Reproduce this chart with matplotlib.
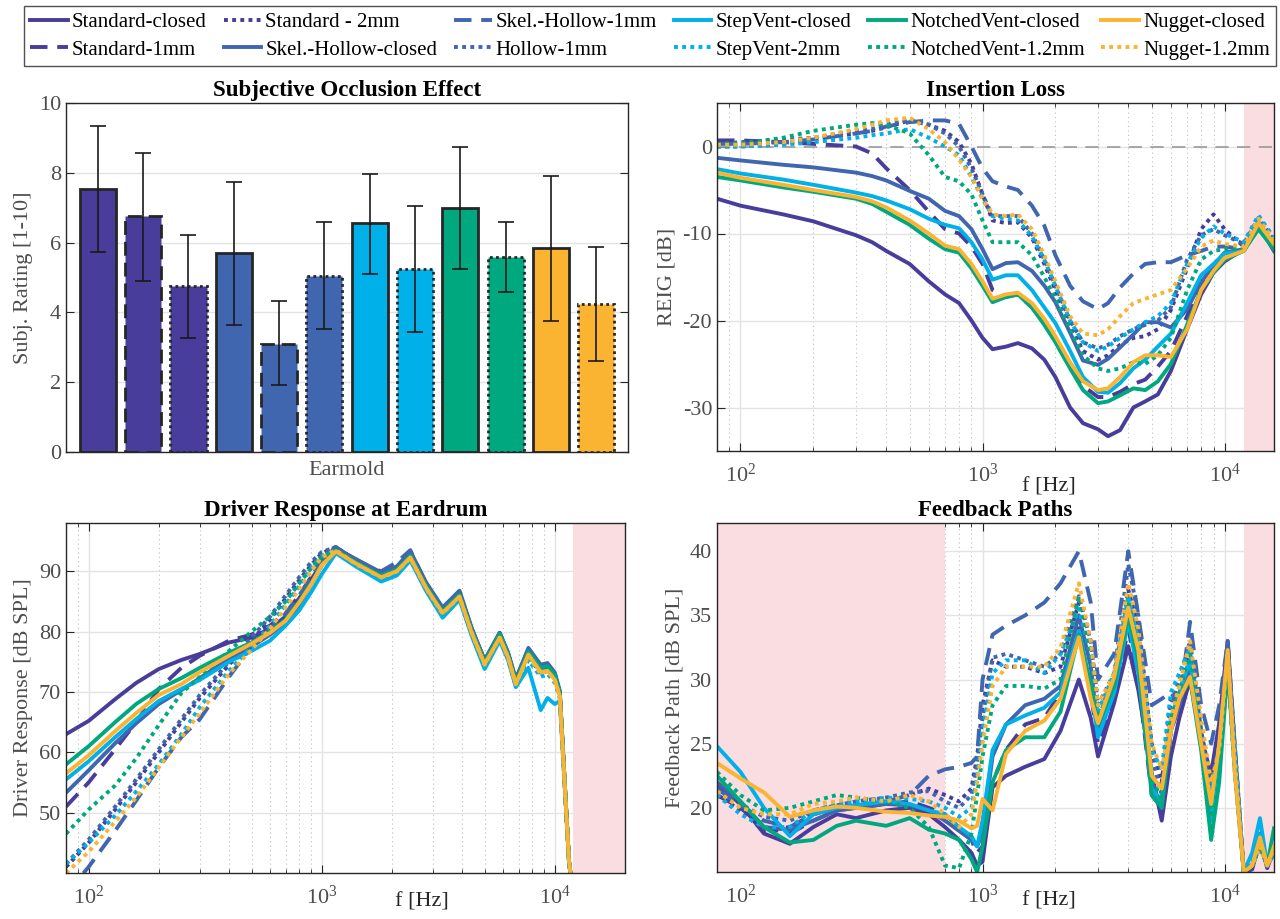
import numpy as np
import matplotlib
matplotlib.use("Agg")
import matplotlib.pyplot as plt

plt.rcParams['font.family'] = ['Liberation Serif', 'DejaVu Serif']
plt.rcParams['mathtext.fontset'] = 'custom'
plt.rcParams['mathtext.rm'] = 'Liberation Serif'
plt.rcParams['mathtext.it'] = 'Liberation Serif:italic'
plt.rcParams['axes.unicode_minus'] = False

# ---- legend / series definitions
labels = ['Standard-closed', 'Standard-1mm', 'Standard - 2mm',
          'Skel.-Hollow-closed', 'Skel.-Hollow-1mm', 'Hollow-1mm',
          'StepVent-closed', 'StepVent-2mm',
          'NotchedVent-closed', 'NotchedVent-1.2mm',
          'Nugget-closed', 'Nugget-1.2mm']
col_std = '#483D9A'
col_sh = '#4066B0'
col_sv = '#00B0E8'
col_nv = '#00A87F'
col_ng = '#FBB431'
colors = [col_std, col_std, col_std, col_sh, col_sh, col_sh,
          col_sv, col_sv, col_nv, col_nv, col_ng, col_ng]
kinds = ['solid', 'dash', 'dot', 'solid', 'dash', 'dot',
         'solid', 'dot', 'solid', 'dot', 'solid', 'dot']

# ---- subjective occlusion effect (bars)
occl_mean = [7.55, 6.75, 4.75, 5.70, 3.10, 5.03, 6.55, 5.24, 7.00, 5.59, 5.85, 4.24]
occl_top = [9.33, 8.57, 6.23, 7.75, 4.33, 6.58, 7.97, 7.04, 8.74, 6.58, 7.92, 5.86]
occl_bot = [5.74, 4.91, 3.27, 3.64, 1.91, 3.53, 5.10, 3.44, 5.24, 4.59, 3.76, 2.62]

# ---- insertion loss (REIG, dB)
il_freq = [80, 100, 150, 200, 300, 350, 400, 500, 600, 700, 800, 900, 1000, 1100,
           1250, 1400, 1600, 1800, 2000, 2300, 2600, 3000, 3300, 3700, 4200, 4700,
           5300, 6000, 7000, 8000, 9000, 10000, 12000, 13800, 16000]
il_std_closed = [-6.0, -6.8, -7.8, -8.6, -10.2, -11.0, -12.0, -13.5, -15.5, -17.0, -18.0, -20.0,
                 -22.0, -23.3, -23.0, -22.6, -23.2, -24.5, -26.5, -30.0, -31.8, -32.5, -33.3,
                 -32.6, -30.0, -29.3, -28.5, -25.8, -21.0, -17.0, -14.5, -13.2, -11.8, -9.0, -12.0]
il_std_1mm = [0.7, 0.7, 0.5, 0.3, 0.0, -0.8, -2.5, -5.0, -7.5, -9.5, -10.0, -11.5, -13.5, -16.5,
              -17.3, -17.0, -18.5, -20.3, -22.3, -25.5, -27.5, -28.8, -28.8, -28.2, -27.3, -26.8,
              -25.3, -23.5, -19.5, -15.8, -14.0, -12.8, -12.0, -9.0, -11.5]
il_std_2mm = [0.0, 0.0, 0.3, 0.8, 1.5, 1.8, 2.2, 3.0, 2.5, 1.8, 0.5, -2.0, -5.5, -8.5, -8.8, -8.7,
              -10.5, -13.5, -16.5, -20.5, -23.5, -24.5, -24.0, -22.8, -22.0, -21.8, -21.0, -18.8,
              -14.0, -9.5, -7.8, -9.5, -11.5, -8.5, -11.0]
il_sh_closed = [-1.3, -1.6, -2.1, -2.4, -3.0, -3.4, -3.9, -5.1, -6.0, -7.4, -8.0, -9.5, -11.8,
                -14.1, -13.4, -13.3, -14.3, -16.0, -17.9, -21.4, -24.6, -25.1, -24.4, -23.1,
                -21.6, -20.2, -20.2, -20.8, -18.7, -15.6, -13.7, -12.2, -11.8, -9.0, -12.0]
il_sh_1mm = [0.3, 0.3, 0.5, 0.8, 1.5, 1.8, 2.3, 2.8, 3.0, 3.0, 2.6, 0.0, -2.5, -4.0, -4.6, -5.0,
             -6.8, -9.1, -12.5, -16.0, -17.8, -18.7, -18.0, -16.2, -14.6, -13.5, -13.3, -13.3,
             -12.5, -12.0, -11.5, -11.5, -11.8, -8.8, -11.2]
il_hollow_1mm = [0.3, 0.5, 0.8, 1.0, 1.8, 2.0, 2.5, 3.0, 2.5, 1.5, 0.0, -2.5, -5.5, -8.0, -8.0,
                 -8.0, -10.0, -13.0, -16.0, -20.0, -22.5, -23.2, -22.8, -21.8, -21.0, -20.5,
                 -20.0, -18.5, -13.0, -10.2, -9.5, -10.2, -11.2, -8.2, -10.8]
il_sv_closed = [-2.6, -3.1, -3.8, -4.4, -5.3, -5.7, -6.2, -7.2, -8.3, -9.0, -9.4, -11.0, -13.0,
                -15.3, -14.8, -14.8, -16.5, -18.5, -20.3, -23.5, -26.5, -28.2, -28.3, -27.2,
                -25.5, -24.5, -23.0, -21.5, -18.0, -14.8, -13.5, -12.3, -12.0, -8.7, -11.3]
il_sv_2mm = [0.0, 0.0, 0.2, 0.5, 1.0, 1.3, 1.5, 2.0, 1.0, 0.0, -1.0, -3.5, -6.0, -8.0, -8.3, -8.5,
             -10.3, -13.0, -16.0, -20.0, -22.5, -23.5, -23.0, -22.0, -21.0, -20.2, -19.5, -18.0,
             -13.5, -10.5, -9.2, -10.0, -11.0, -7.9, -10.5]
il_nv_closed = [-3.5, -3.9, -4.7, -5.2, -6.0, -6.6, -7.5, -9.0, -10.6, -11.8, -12.2, -14.0, -16.0,
                -17.9, -17.3, -17.0, -18.5, -20.5, -22.5, -25.5, -28.0, -29.5, -29.3, -28.6,
                -27.8, -28.0, -27.0, -25.0, -20.5, -16.5, -14.5, -13.0, -12.0, -9.5, -11.8]
il_nv_12mm = [0.3, 0.3, 1.0, 1.8, 2.5, 2.7, 2.5, 1.5, -1.0, -3.5, -4.0, -5.5, -8.5, -11.0, -11.0,
              -11.0, -12.5, -15.0, -17.5, -21.0, -24.0, -25.5, -25.8, -25.5, -24.8, -25.0, -24.0,
              -22.0, -16.5, -13.0, -12.0, -11.8, -11.8, -9.3, -11.5]
il_ng_closed = [-3.0, -3.6, -4.4, -5.0, -5.8, -6.3, -7.0, -8.5, -10.0, -11.4, -11.8, -13.5, -15.5,
                -17.5, -17.0, -16.8, -18.0, -19.8, -21.8, -24.8, -27.0, -28.0, -27.8, -26.5,
                -24.8, -24.0, -24.0, -24.2, -21.0, -16.5, -14.3, -12.8, -12.0, -8.8, -11.2]
il_ng_12mm = [0.2, 0.2, 0.5, 1.0, 2.0, 2.5, 3.0, 3.3, 2.0, 0.5, -1.5, -3.5, -6.0, -7.8, -8.0, -7.8,
              -9.5, -12.5, -15.5, -19.5, -21.5, -21.7, -21.0, -19.5, -18.0, -17.5, -17.0, -16.5,
              -14.0, -11.5, -10.8, -11.2, -11.5, -8.3, -10.8]

# ---- driver response at eardrum (dB SPL)
dr_freq = [80, 100, 130, 160, 200, 250, 300, 400, 500, 600, 700, 800, 900, 1000, 1150,
           1400, 1800, 2100, 2400, 2800, 3300, 3900, 4400, 5000, 5800, 6300, 6800, 7700,
           8700, 9300, 10000, 10500, 11500, 12500]
dr_std_closed = [63.0, 65.2, 68.8, 71.5, 73.8, 75.3, 76.3, 78.2, 79.0, 80.5, 82.5, 85.5, 88.5, 91.5,
                 93.8, 92.0, 89.7, 90.6, 93.2, 88.0, 83.8, 86.5, 80.5, 75.3, 79.8, 76.5, 72.2,
                 77.0, 74.2, 74.5, 73.0, 70.0, 42.0, 30.0]
dr_std_1mm = [51.0, 55.0, 60.5, 65.0, 70.5, 74.0, 76.0, 78.5, 79.5, 81.0, 83.0, 86.0, 89.0, 92.0,
              94.0, 91.8, 89.5, 90.5, 93.0, 87.8, 83.5, 86.3, 80.3, 75.0, 79.5, 76.2, 71.8,
              76.8, 74.0, 74.0, 72.8, 69.8, 42.0, 30.0]
dr_std_2mm = [41.0, 45.0, 50.5, 55.0, 60.0, 65.0, 69.0, 74.5, 78.5, 82.0, 85.5, 88.5, 91.0, 93.0,
              94.0, 91.8, 89.5, 90.5, 93.0, 87.5, 83.3, 86.0, 80.0, 74.8, 79.2, 76.0, 71.5,
              76.0, 73.0, 73.5, 72.5, 69.5, 42.0, 30.0]
dr_sh_closed = [53.3, 57.0, 61.5, 64.8, 68.0, 70.3, 72.3, 75.5, 77.5, 79.5, 81.5, 84.5, 87.8, 91.0,
                93.8, 92.0, 89.8, 90.8, 93.3, 88.2, 84.0, 86.8, 80.6, 75.2, 79.8, 76.5, 72.0,
                77.3, 74.5, 74.8, 73.2, 70.2, 42.0, 30.0]
dr_sh_1mm = [36.5, 41.0, 47.0, 52.0, 57.5, 62.5, 65.5, 72.5, 77.5, 80.5, 83.0, 86.0, 89.0, 92.0,
             94.0, 91.5, 90.0, 91.5, 93.5, 88.0, 83.5, 86.3, 80.2, 75.0, 79.5, 76.2, 71.8,
             76.5, 73.5, 74.0, 72.8, 69.8, 42.0, 30.0]
dr_hollow_1mm = [41.5, 45.5, 51.0, 55.5, 60.5, 65.5, 69.5, 75.0, 79.0, 82.5, 86.0, 89.0, 91.5, 93.2,
                 94.0, 91.5, 89.5, 90.5, 92.8, 87.5, 83.3, 86.0, 80.0, 74.8, 79.3, 76.0, 71.5,
                 76.2, 73.2, 73.8, 72.5, 69.5, 42.0, 30.0]
dr_sv_closed = [55.5, 58.5, 62.5, 65.5, 68.5, 70.5, 72.0, 75.0, 76.8, 78.5, 81.0, 83.5, 86.5, 89.5,
                93.0, 90.8, 88.3, 89.3, 91.8, 86.8, 82.3, 85.3, 79.3, 73.8, 78.5, 75.3, 70.8,
                74.0, 67.0, 69.0, 68.0, 68.5, 42.0, 30.0]
dr_sv_2mm = [41.5, 45.0, 49.5, 53.5, 58.0, 63.0, 67.5, 73.5, 77.5, 81.0, 84.5, 87.5, 90.5, 92.5,
             93.5, 91.0, 88.7, 89.8, 92.0, 87.0, 82.8, 85.5, 79.5, 74.0, 78.8, 75.5, 71.0,
             75.3, 72.5, 73.0, 71.5, 69.0, 42.0, 30.0]
dr_nv_closed = [58.0, 61.0, 65.0, 68.0, 70.5, 72.3, 74.0, 76.5, 78.2, 80.0, 82.0, 85.0, 88.0, 91.0,
                93.5, 91.5, 89.3, 90.3, 92.6, 87.6, 83.4, 86.1, 80.2, 75.0, 79.6, 76.3, 71.8,
                76.7, 74.0, 74.3, 72.8, 70.0, 42.0, 30.0]
dr_nv_12mm = [46.5, 50.5, 54.5, 59.0, 64.5, 69.8, 72.5, 76.8, 80.0, 82.5, 85.0, 88.0, 90.5, 92.5,
              93.5, 91.3, 89.0, 90.0, 92.3, 87.3, 83.0, 85.8, 79.8, 74.5, 79.0, 75.8, 71.3,
              76.0, 73.3, 73.8, 72.3, 69.5, 42.0, 30.0]
dr_ng_closed = [56.5, 59.5, 63.5, 66.5, 69.5, 71.3, 73.3, 76.0, 78.0, 79.8, 81.8, 84.8, 87.8, 91.0,
                93.3, 91.3, 89.0, 90.0, 92.3, 87.3, 83.1, 85.8, 79.8, 74.6, 79.0, 75.8, 71.3,
                76.2, 73.3, 73.5, 72.0, 69.3, 42.0, 30.0]
dr_ng_12mm = [40.0, 43.5, 48.5, 52.5, 57.5, 62.5, 66.5, 73.0, 77.0, 80.5, 84.0, 87.0, 90.0, 92.3,
              93.5, 91.2, 89.0, 90.0, 92.2, 87.2, 83.0, 85.8, 79.8, 74.5, 79.0, 75.8, 71.3,
              76.0, 73.0, 73.5, 72.0, 69.3, 42.0, 30.0]

# ---- feedback paths (dB SPL)
fb_freq = [80, 100, 125, 160, 200, 250, 300, 400, 500, 600, 700, 800, 900, 950, 1000, 1100,
           1250, 1500, 1800, 2100, 2500, 2800, 3000, 3500, 4000, 4400, 5000, 5500, 6000,
           6500, 7200, 8000, 8800, 9500, 10300, 11000, 12000, 13000, 14000, 15000, 16000]
fb_std_closed = [21.8, 20.3, 18.0, 17.2, 18.5, 19.5, 19.2, 19.8, 20.0, 19.5, 18.5, 17.5, 16.5, 15.5,
                 15.8, 21.6, 22.5, 23.2, 23.8, 26.0, 30.0, 27.0, 24.0, 28.2, 32.6, 29.2, 22.7,
                 19.0, 24.0, 27.0, 30.0, 25.3, 22.7, 26.6, 33.0, 24.0, 15.0, 15.2, 17.5, 15.3, 16.8]
fb_std_1mm = [21.0, 20.0, 18.5, 18.0, 19.0, 19.8, 20.0, 20.3, 20.5, 20.0, 19.5, 18.5, 17.5, 16.5,
              17.0, 22.0, 24.5, 26.5, 27.0, 29.0, 34.0, 29.0, 25.0, 28.5, 34.0, 30.0, 21.0,
              20.0, 26.0, 28.0, 31.0, 25.0, 20.0, 24.0, 32.0, 24.0, 15.0, 15.5, 17.0, 15.5, 16.5]
fb_std_2mm = [21.0, 19.8, 18.2, 18.5, 19.5, 20.0, 20.3, 20.5, 21.0, 21.5, 21.0, 20.5, 21.5, 24.0,
              28.0, 31.5, 31.0, 31.0, 30.5, 31.0, 36.0, 33.0, 28.0, 30.0, 37.0, 34.0, 25.0,
              22.0, 28.5, 28.0, 32.0, 26.0, 22.0, 25.0, 32.5, 25.0, 15.0, 15.5, 17.5, 15.5, 16.5]
fb_sh_closed = [22.0, 20.5, 18.5, 18.3, 19.0, 19.8, 20.0, 20.3, 20.2, 19.8, 19.0, 18.2, 17.5, 17.0,
                18.0, 24.0, 26.5, 28.0, 28.5, 29.5, 35.0, 31.0, 26.0, 29.0, 35.5, 31.0, 22.0,
                20.0, 26.0, 28.0, 31.0, 25.0, 21.0, 24.0, 33.0, 25.0, 15.0, 15.5, 18.0, 15.5, 17.0]
fb_sh_1mm = [21.5, 20.2, 19.0, 18.5, 19.5, 20.0, 20.2, 20.5, 21.0, 22.5, 23.0, 23.2, 23.5, 24.0,
             30.0, 33.5, 34.2, 35.0, 36.0, 37.5, 40.0, 36.0, 30.0, 32.0, 40.0, 35.0, 28.0,
             28.5, 29.0, 28.0, 34.5, 28.0, 25.0, 28.0, 33.0, 25.0, 15.0, 16.0, 17.5, 15.5, 16.5]
fb_hollow_1mm = [21.5, 20.3, 19.3, 19.0, 19.8, 20.2, 20.5, 20.8, 21.2, 21.3, 20.5, 20.0, 21.0, 23.5,
                 27.0, 31.7, 32.0, 31.5, 31.0, 32.0, 36.5, 33.0, 28.0, 30.5, 39.0, 35.0, 24.0,
                 21.0, 28.0, 30.0, 33.0, 26.0, 21.0, 24.0, 31.0, 24.0, 15.0, 15.5, 17.0, 15.5, 16.5]
fb_sv_closed = [24.8, 22.8, 20.0, 17.8, 19.5, 20.0, 20.2, 20.5, 20.3, 19.8, 19.5, 18.5, 17.8, 17.0,
                19.0, 24.5, 26.5, 27.2, 27.8, 29.0, 33.8, 29.5, 25.5, 29.0, 34.5, 30.5, 21.5,
                20.5, 27.0, 29.0, 31.5, 25.0, 19.0, 23.0, 31.5, 24.0, 15.0, 16.5, 19.2, 15.5, 17.0]
fb_sv_2mm = [21.0, 19.5, 18.5, 18.5, 19.8, 20.3, 20.5, 20.8, 20.7, 20.5, 20.0, 19.3, 20.0, 22.5,
             26.0, 30.5, 31.5, 31.5, 30.5, 32.0, 35.5, 32.0, 27.5, 30.5, 36.5, 33.0, 24.5,
             23.0, 29.0, 30.5, 32.5, 26.0, 21.5, 25.0, 31.5, 24.5, 15.0, 16.0, 18.5, 15.5, 16.5]
fb_nv_closed = [22.5, 20.5, 18.5, 17.3, 17.5, 18.6, 19.0, 18.6, 19.2, 18.3, 18.0, 17.5, 16.0, 15.0,
                17.0, 22.0, 24.5, 25.5, 25.5, 27.5, 33.5, 29.5, 26.5, 29.5, 35.0, 31.5, 21.0,
                20.0, 26.5, 28.5, 30.0, 24.5, 17.5, 22.0, 31.0, 23.0, 15.0, 15.5, 17.0, 15.5, 18.4]
fb_nv_12mm = [22.8, 21.0, 19.8, 20.0, 20.5, 21.0, 20.8, 20.5, 20.0, 18.5, 15.5, 15.3, 18.0, 21.0,
              24.0, 28.0, 29.5, 29.5, 29.3, 30.0, 36.5, 32.0, 27.0, 30.0, 36.5, 33.0, 22.5,
              20.5, 27.0, 29.0, 32.0, 25.0, 19.5, 23.0, 31.0, 23.0, 15.0, 15.5, 17.5, 15.5, 17.0]
fb_ng_closed = [23.5, 22.3, 21.2, 19.3, 19.8, 20.1, 20.0, 19.7, 19.6, 19.4, 19.3, 19.0, 18.4, 18.6,
                20.7, 19.8, 24.2, 26.0, 26.8, 28.5, 33.3, 28.5, 26.6, 30.2, 35.6, 32.3, 22.5,
                21.5, 26.0, 28.5, 30.2, 25.0, 20.3, 25.0, 32.3, 23.0, 15.0, 15.5, 17.7, 15.5, 17.0]
fb_ng_12mm = [21.3, 20.0, 19.5, 19.5, 20.3, 20.5, 20.8, 20.5, 21.0, 20.5, 19.5, 18.5, 19.5, 22.0,
              25.0, 29.5, 31.0, 31.0, 31.0, 32.5, 37.5, 33.0, 28.0, 30.5, 37.5, 34.0, 25.0,
              23.0, 27.0, 29.5, 33.0, 27.0, 22.0, 24.5, 32.0, 24.0, 15.0, 15.5, 17.0, 15.5, 16.5]

il_curves = [il_std_closed, il_std_1mm, il_std_2mm, il_sh_closed, il_sh_1mm, il_hollow_1mm,
             il_sv_closed, il_sv_2mm, il_nv_closed, il_nv_12mm, il_ng_closed, il_ng_12mm]
dr_curves = [dr_std_closed, dr_std_1mm, dr_std_2mm, dr_sh_closed, dr_sh_1mm, dr_hollow_1mm,
             dr_sv_closed, dr_sv_2mm, dr_nv_closed, dr_nv_12mm, dr_ng_closed, dr_ng_12mm]
fb_curves = [fb_std_closed, fb_std_1mm, fb_std_2mm, fb_sh_closed, fb_sh_1mm, fb_hollow_1mm,
             fb_sv_closed, fb_sv_2mm, fb_nv_closed, fb_nv_12mm, fb_ng_closed, fb_ng_12mm]

line_styles = {'solid': '-', 'dash': (0, (4.5, 2.5)), 'dot': (0, (1, 1.1))}
edge_styles = {'solid': '-', 'dash': (0, (5, 2.5)), 'dot': (0, (1, 1.2))}
pink = '#FADDE1'
spine_col = '#262626'
tick_col = '#4D4D4D'
W, H = 1280, 919


def px_axes(fig, left, top, right, bottom):
    return fig.add_axes([left / W, 1 - bottom / H, (right - left) / W, (bottom - top) / H])


def style_axes(ax, logx=True):
    for s in ax.spines.values():
        s.set_color(spine_col)
        s.set_linewidth(1.0)
    ax.tick_params(which='both', direction='in', top=True, right=True, color=spine_col,
                   labelcolor=tick_col, labelsize=16)
    ax.tick_params(which='major', length=6)
    ax.tick_params(which='minor', length=3)
    ax.tick_params(axis='x', pad=9)
    ax.set_axisbelow(True)
    ax.grid(True, which='major', color='#E3E3E3', lw=1.0, ls='-')
    if logx:
        ax.set_xscale('log')
        ax.grid(True, which='minor', axis='x', color='#BDBDBD', lw=0.8, ls=(0, (1, 3)))


fig = plt.figure(figsize=(W / 100, H / 100), dpi=100)
title_kw = dict(fontsize=16.5, fontweight='bold', pad=5)

# ---- bars
ax0 = px_axes(fig, 66, 103, 628, 452)
style_axes(ax0, logx=False)
xb = np.arange(1, len(occl_mean) + 1)
mean = np.array(occl_mean)
bars = ax0.bar(xb, mean, width=0.8, color=colors, edgecolor=spine_col, linewidth=2.0, zorder=2)
for b, k in zip(bars, kinds):
    b.set_linestyle(edge_styles[k])
ax0.errorbar(xb, mean, yerr=[mean - np.array(occl_bot), np.array(occl_top) - mean],
             fmt='none', ecolor='#1A1A1A', elinewidth=1.2, capsize=6, capthick=1.2, zorder=3)
ax0.set_xlim(0.3, 12.7)
ax0.set_ylim(0, 10)
ax0.set_xticks([])
ax0.set_yticks([0, 2, 4, 6, 8, 10])
ax0.grid(False, axis='x')
ax0.set_ylabel('Subj. Rating [1-10]', fontsize=16, color=tick_col)
ax0.set_xlabel('Earmold', fontsize=16, color=tick_col)
ax0.xaxis.set_label_coords(0.5, -0.025)
ax0.set_title('Subjective Occlusion Effect', **title_kw)

# ---- insertion loss
ax1 = px_axes(fig, 717, 103, 1274, 451)
style_axes(ax1)
ax1.axvspan(12000, 16000, color=pink, lw=0, zorder=1)
ax1.axhline(0, color='#9A9A9A', lw=1.2, ls=(0, (8, 5)), zorder=1.5)
handles = []
for vals, c, k, lab in zip(il_curves, colors, kinds, labels):
    h, = ax1.plot(il_freq, vals, color=c, ls=line_styles[k], lw=2.8, label=lab)
    handles.append(h)
ax1.set_xlim(80, 16000)
ax1.set_ylim(-35, 5)
ax1.set_yticks([0, -10, -20, -30])
ax1.set_ylabel('REIG [dB]', fontsize=16, color=tick_col)
ax1.set_xlabel('f [Hz]', fontsize=16, color=spine_col)
ax1.xaxis.set_label_coords(0.596, -0.075)
ax1.set_title('Insertion Loss', **title_kw)

# ---- driver response
ax2 = px_axes(fig, 66, 523, 625, 873)
style_axes(ax2)
ax2.axvspan(12000, 20000, color=pink, lw=0, zorder=1)
for vals, c, k in zip(dr_curves, colors, kinds):
    ax2.plot(dr_freq, vals, color=c, ls=line_styles[k], lw=2.8)
ax2.set_xlim(80, 20000)
ax2.set_ylim(40, 98)
ax2.set_yticks([50, 60, 70, 80, 90])
ax2.set_ylabel('Driver Response [dB SPL]', fontsize=16, color=tick_col)
ax2.set_xlabel('f [Hz]', fontsize=16, color=spine_col)
ax2.xaxis.set_label_coords(0.636, -0.057)
ax2.set_title('Driver Response at Eardrum', **title_kw)

# ---- feedback paths
ax3 = px_axes(fig, 717, 523, 1274, 872)
style_axes(ax3)
ax3.axvspan(80, 700, color=pink, lw=0, zorder=1)
ax3.axvspan(12000, 16000, color=pink, lw=0, zorder=1)
for vals, c, k in zip(fb_curves, colors, kinds):
    ax3.plot(fb_freq, vals, color=c, ls=line_styles[k], lw=2.8)
ax3.set_xlim(80, 16000)
ax3.set_ylim(15, 42.2)
ax3.set_yticks([20, 25, 30, 35, 40])
ax3.set_ylabel('Feedback Path [dB SPL]', fontsize=16, color=tick_col)
ax3.set_xlabel('f [Hz]', fontsize=16, color=spine_col)
ax3.xaxis.set_label_coords(0.596, -0.057)
ax3.set_title('Feedback Paths', **title_kw)

leg = fig.legend(handles, labels, ncol=6, loc='lower left',
                 bbox_to_anchor=(24 / W, 1 - 66 / H, 1252 / W, 59 / H), mode='expand',
                 frameon=True, fancybox=False, edgecolor=spine_col, fontsize=15,
                 handlelength=1.8, handletextpad=0.2, borderaxespad=0, columnspacing=0.3,
                 labelspacing=0.4, borderpad=0.3)
leg.get_frame().set_linewidth(1.0)

fig.savefig('out.png', dpi=100)
